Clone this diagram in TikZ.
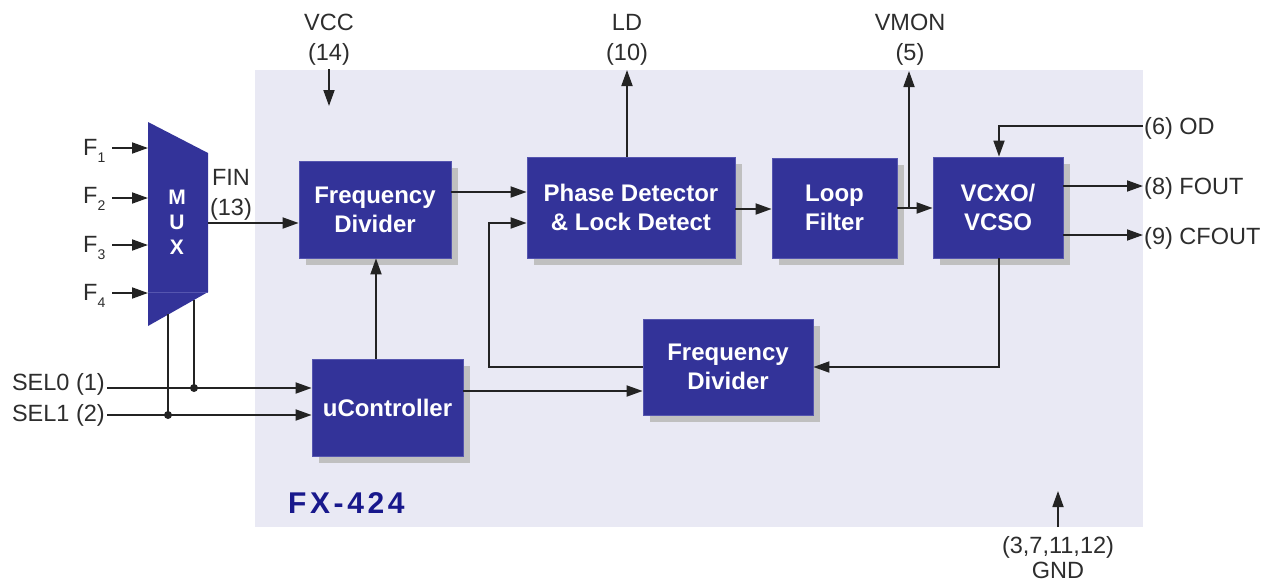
\documentclass[tikz,border=0pt]{standalone}
\usepackage{fontspec}
\setmainfont{Liberation Sans}
\usetikzlibrary{arrows.meta,shadows}
\definecolor{blk}{RGB}{51,51,153}
\definecolor{blkedge}{RGB}{85,85,175}
\definecolor{panel}{RGB}{233,233,244}
\definecolor{shd}{RGB}{192,192,192}
\definecolor{navy}{RGB}{24,24,140}
\definecolor{ln}{RGB}{35,35,35}
\definecolor{lbl}{RGB}{45,45,45}
\tikzset{
  blockbox/.style={rectangle, fill=blk, draw=blkedge, line width=0.8pt, inner sep=0pt,
    text=white, font=\fontsize{24}{29}\selectfont\bfseries, align=center,
    drop shadow={shadow xshift=7pt, shadow yshift=-7pt, fill=shd, opacity=1}},
  conn/.style={draw=ln, line width=1.8pt},
  arr/.style={conn, -{Triangle[length=16pt,width=11pt]}},
  lab/.style={text=lbl, font=\fontsize{23.5}{23.5}\selectfont, inner sep=0pt, anchor=base},
  jdot/.style={circle, fill=ln, inner sep=0pt, minimum size=8pt},
}
\newcommand{\fsub}[1]{\raisebox{-7pt}{\fontsize{14}{14}\selectfont #1}}
\begin{document}
\begin{tikzpicture}[x=1pt,y=-1pt]
\useasboundingbox (0,0) rectangle (1270,581);
\fill[white] (0,0) rectangle (1270,581);
\fill[panel] (255,70) rectangle (1143,527);

% MUX
\fill[blk] (148,122) -- (208,153) -- (208,292) -- (148,326) -- cycle;
\draw[blkedge, line width=0.8pt] (148,292) -- (208,292);
\node[text=white, font=\fontsize{21}{25}\selectfont\bfseries, align=center, inner sep=0pt] (mux) at (177,222) {M\\U\\X};

% blocks
\node[blockbox, minimum width=152pt, minimum height=97pt] (fd1) at (375,209.5) {Frequency\\Divider};
\node[blockbox, minimum width=208pt, minimum height=101pt] (pd) at (631,207.5) {Phase Detector\\\& Lock Detect};
\node[blockbox, minimum width=125pt, minimum height=100pt] (lf) at (834.5,208) {Loop\\Filter};
\node[blockbox, minimum width=130pt, minimum height=101pt] (vcxo) at (998,207.5) {VCXO/\\VCSO};
\node[blockbox, minimum width=170pt, minimum height=96pt] (fd2) at (728,367) {Frequency\\Divider};
\node[blockbox, minimum width=151pt, minimum height=97pt] (uc) at (387.5,407.5) {uController};

% title
\node[text=navy, font=\fontsize{30}{30}\selectfont\bfseries\addfontfeatures{LetterSpace=12}, inner sep=0pt, anchor=base west] (fx) at (288,513) {FX-424};

% top labels
\node[lab] (vcc) at (329,30) {VCC};
\node[lab] (vcc14) at (329,60) {(14)};
\node[lab] (ld) at (627,30) {LD};
\node[lab] (ld10) at (627,60) {(10)};
\node[lab] (vmon) at (910,30) {VMON};
\node[lab] (vmon5) at (910,60) {(5)};
\node[lab] (fin) at (231,185) {FIN};
\node[lab] (fin13) at (231,215) {(13)};

% right labels
\node[lab, anchor=base west] (od) at (1144,134) {(6) OD};
\node[lab, anchor=base west] (fout) at (1144,194) {(8) FOUT};
\node[lab, anchor=base west] (cfout) at (1144,244) {(9) CFOUT};

% bottom labels
\node[lab] (gndpins) at (1058,553) {(3,7,11,12)};
\node[lab] (gnd) at (1058,578) {GND};

% left labels
\node[lab, anchor=base east] (sel0) at (105,390) {SEL0 (1)};
\node[lab, anchor=base east] (sel1) at (105,421) {SEL1 (2)};
\node[lab, anchor=base west] (f1) at (83,155) {F\fsub{1}};
\node[lab, anchor=base west] (f2) at (83,203) {F\fsub{2}};
\node[lab, anchor=base west] (f3) at (83,252) {F\fsub{3}};
\node[lab, anchor=base west] (f4) at (83,300) {F\fsub{4}};

% coordinates
\coordinate (f1s) at (112,148); \coordinate (f1e) at (148,148);
\coordinate (f2s) at (112,198); \coordinate (f2e) at (148,198);
\coordinate (f3s) at (112,245); \coordinate (f3e) at (148,245);
\coordinate (f4s) at (112,293); \coordinate (f4e) at (148,293);
\coordinate (muxout) at (208,223);
\coordinate (vccs) at (329,69); \coordinate (vcce) at (329,106);
\coordinate (ldtip) at (627,70);
\coordinate (vmtap) at (909,208); \coordinate (vmtip) at (909,71);
\coordinate (odpin) at (1143,126); \coordinate (odturn) at (999,126);
\coordinate (foutpin) at (1143,186);
\coordinate (cfoutpin) at (1143,235);
\coordinate (fbturn) at (999,367);
\coordinate (fbl1) at (489,367); \coordinate (fbl2) at (489,223);
\coordinate (sel0s) at (107,388); \coordinate (sel1s) at (107,415);
\coordinate (j0) at (194,388); \coordinate (j1) at (168,415);
\coordinate (m0) at (194,300); \coordinate (m1) at (168,314);
\coordinate (gnds) at (1058,527); \coordinate (gnde) at (1058,491);

% input arrows
\draw[arr] (f1s) -- (f1e);
\draw[arr] (f2s) -- (f2e);
\draw[arr] (f3s) -- (f3e);
\draw[arr] (f4s) -- (f4e);
\draw[arr] (muxout) -- (muxout -| fd1.west);

% pins
\draw[arr] (vccs) -- (vcce);
\draw[arr] (pd.north -| ldtip) -- (ldtip);
\draw[arr] (vmtap) -- (vmtip);
\draw[arr] (odpin) -- (odturn) -- (vcxo.north -| odturn);
\draw[arr] (vcxo.east |- foutpin) -- (foutpin);
\draw[arr] (vcxo.east |- cfoutpin) -- (cfoutpin);
\draw[arr] (gnds) -- (gnde);

% internal
\draw[arr] (fd1.east |- 0,192) -- (pd.west |- 0,192);
\draw[arr] (pd.east |- 0,209) -- (lf.west |- 0,209);
\draw[arr] (lf.east |- vmtap) -- (vcxo.west |- vmtap);
\draw[arr] (vcxo.south -| fbturn) -- (fbturn) -- (fd2.east |- fbturn);
\draw[arr] (fd2.west |- fbl1) -- (fbl1) -- (fbl2) -- (pd.west |- fbl2);
\draw[arr] (uc.east |- 0,391) -- (fd2.west |- 0,391);
\draw[arr] (uc.north -| 376,0) -- (fd1.south -| 376,0);

% select lines
\draw[arr] (sel0s) -- (uc.west |- sel0s);
\draw[arr] (sel1s) -- (uc.west |- sel1s);
\draw[conn] (m0) -- (j0);
\draw[conn] (m1) -- (j1);
\node[jdot] (d0) at (j0) {};
\node[jdot] (d1) at (j1) {};
\end{tikzpicture}
\end{document}
